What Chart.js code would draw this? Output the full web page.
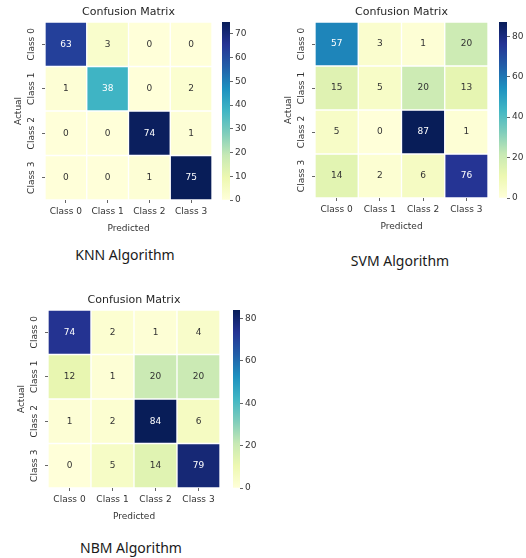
<!DOCTYPE html>
<html>
<head>
<meta charset="utf-8">
<script src="https://cdn.jsdelivr.net/npm/chart.js@4.4.1/dist/chart.umd.min.js"></script>
<style>
  body { margin: 0; background: #fff; }
  #page { position: relative; width: 526px; height: 558px; overflow: hidden; }
  canvas { position: absolute; }
  .cap { position: absolute; font-family: "Noto Sans", sans-serif; font-size: 14px; color: #1a1a1a;
         transform: translate(-50%, -50%); white-space: nowrap; }
</style>
</head>
<body>
<div id="page">
  <canvas id="knnMap" width="214" height="236" style="left:0px;top:0px"></canvas>
  <canvas id="knnBar" width="38" height="190" style="left:222px;top:16px"></canvas>
  <div class="cap" style="left:125px;top:254px">KNN Algorithm</div>

  <canvas id="svmMap" width="220" height="234" style="left:270px;top:0px"></canvas>
  <canvas id="svmBar" width="38" height="188" style="left:499px;top:16px"></canvas>
  <div class="cap" style="left:400px;top:260px">SVM Algorithm</div>

  <canvas id="nbmMap" width="219" height="236" style="left:3px;top:288px"></canvas>
  <canvas id="nbmBar" width="37" height="190" style="left:233px;top:304px"></canvas>
  <div class="cap" style="left:131px;top:547px">NBM Algorithm</div>
</div>

<script>
// classes (rows = actual, columns = predicted)
const classes = ["Class 0", "Class 1", "Class 2", "Class 3"];

const knnMatrix = [
    [63, 3, 0, 0],
    [1, 38, 0, 2],
    [0, 0, 74, 1],
    [0, 0, 1, 75]
];

const svmMatrix = [
    [57, 3, 1, 20],
    [15, 5, 20, 13],
    [5, 0, 87, 1],
    [14, 2, 6, 76]
];

const nbmMatrix = [
    [74, 2, 1, 4],
    [12, 1, 20, 20],
    [1, 2, 84, 6],
    [0, 5, 14, 79]
];

// colour bar ranges and tick steps
const knnScale = [0, 75, 10];
const svmScale = [0, 87, 20];
const nbmScale = [0, 84, 20];

Chart.defaults.font.family = "'DejaVu Sans', sans-serif";

// YlGnBu colour map
const ylgnbu = ["#ffffd9", "#edf8b1", "#c7e9b4", "#7fcdbb", "#41b6c4", "#1d91c0", "#225ea8", "#253494", "#081d58"];

function hexToRgb(h) {
    return [parseInt(h.slice(1, 3), 16), parseInt(h.slice(3, 5), 16), parseInt(h.slice(5, 7), 16)];
}

function cmap(t) {
    t = Math.max(0, Math.min(1, t));
    const p = t * (ylgnbu.length - 1);
    const i = Math.min(Math.floor(p), ylgnbu.length - 2);
    const f = p - i;
    const a = hexToRgb(ylgnbu[i]), b = hexToRgb(ylgnbu[i + 1]);
    const c = a.map((v, k) => Math.round(v + (b[k] - v) * f));
    return "rgb(" + c.join(",") + ")";
}

const txt = "#333333";
const tickCol = "#666666";

function makeHeatmap(id, matrix, range) {
    const vmin = range[0], vmax = range[1];

    const cellText = {
        id: "cellText",
        afterDatasetsDraw(chart) {
            const ctx = chart.ctx;
            ctx.save();
            ctx.font = "9px 'DejaVu Sans'";
            ctx.textAlign = "center";
            ctx.textBaseline = "middle";
            chart.data.datasets.forEach((ds, i) => {
                chart.getDatasetMeta(i).data.forEach((bar, j) => {
                    const v = matrix[i][j];
                    const t = (v - vmin) / (vmax - vmin);
                    ctx.fillStyle = t > 0.45 ? "#ffffff" : txt;
                    ctx.fillText(String(v), bar.x, (bar.y + bar.base) / 2);
                });
            });
            ctx.restore();
        }
    };

    new Chart(document.getElementById(id), {
        type: "bar",
        data: {
            labels: classes,
            datasets: matrix.map((row, i) => ({
                label: classes[i],
                data: row.map(() => 1),
                backgroundColor: row.map(v => cmap((v - vmin) / (vmax - vmin))),
                borderColor: "#ffffff",
                borderWidth: 1,
                borderSkipped: false,
                barPercentage: 1,
                categoryPercentage: 1
            }))
        },
        options: {
            responsive: false,
            animation: false,
            layout: { padding: { top: 0, right: 2, bottom: 0, left: 0 } },
            plugins: {
                legend: { display: false },
                tooltip: { enabled: false },
                title: {
                    display: true,
                    fullSize: false,
                    text: "Confusion Matrix",
                    color: "#262626",
                    font: { size: 11, weight: "normal" },
                    padding: { top: 5.5, bottom: 3.3 }
                }
            },
            scales: {
                x: {
                    stacked: true,
                    grid: { drawOnChartArea: false, offset: false, tickLength: 3, color: tickCol },
                    border: { display: false },
                    ticks: { color: txt, font: { size: 9 }, padding: 3, maxRotation: 0 },
                    title: { display: true, text: "Predicted", color: txt, font: { size: 9 }, padding: { top: 0, bottom: 2 } },
                    afterFit: s => { s.height = 36; s.paddingLeft = 0; s.paddingRight = 0; }
                },
                y: {
                    stacked: true,
                    min: 0,
                    max: 4,
                    reverse: true,
                    afterBuildTicks: s => { s.ticks = classes.map((c, i) => ({ value: i + 0.5 })); },
                    ticks: {
                        callback: (v, i) => classes[i],
                        minRotation: 90,
                        maxRotation: 90,
                        crossAlign: "center",
                        padding: -6,
                        color: txt,
                        font: { size: 9 }
                    },
                    grid: { drawOnChartArea: false, tickLength: 3, color: tickCol },
                    border: { display: false },
                    title: { display: true, text: "Actual", color: txt, font: { size: 9 }, padding: { top: 13, bottom: 0 } },
                    afterFit: s => { s.width = 45; s.paddingTop = 0; s.paddingBottom = 0; }
                }
            }
        },
        plugins: [cellText]
    });
}

function makeColorbar(id, range) {
    const vmin = range[0], vmax = range[1], step = range[2];
    new Chart(document.getElementById(id), {
        type: "bar",
        data: {
            labels: [""],
            datasets: [{
                data: [[vmin, vmax]],
                backgroundColor: c => {
                    const ca = c.chart.chartArea;
                    if (!ca) return null;
                    const g = c.chart.ctx.createLinearGradient(0, ca.bottom, 0, ca.top);
                    ylgnbu.forEach((col, k) => g.addColorStop(k / (ylgnbu.length - 1), col));
                    return g;
                },
                borderWidth: 0,
                barPercentage: 1,
                categoryPercentage: 1
            }]
        },
        options: {
            responsive: false,
            animation: false,
            layout: { padding: { top: 6, bottom: 6, left: 0, right: 0 } },
            plugins: { legend: { display: false }, tooltip: { enabled: false } },
            scales: {
                x: { display: false },
                y: {
                    position: "right",
                    min: vmin,
                    max: vmax,
                    ticks: { stepSize: step, includeBounds: false, color: txt, font: { size: 9 }, padding: 2 },
                    grid: { drawOnChartArea: false, tickLength: 3, color: tickCol },
                    border: { display: false },
                    afterFit: s => { s.width = 30; s.paddingTop = 0; s.paddingBottom = 0; }
                }
            }
        }
    });
}

makeHeatmap("knnMap", knnMatrix, knnScale);
makeColorbar("knnBar", knnScale);
makeHeatmap("svmMap", svmMatrix, svmScale);
makeColorbar("svmBar", svmScale);
makeHeatmap("nbmMap", nbmMatrix, nbmScale);
makeColorbar("nbmBar", nbmScale);
</script>
</body>
</html>
